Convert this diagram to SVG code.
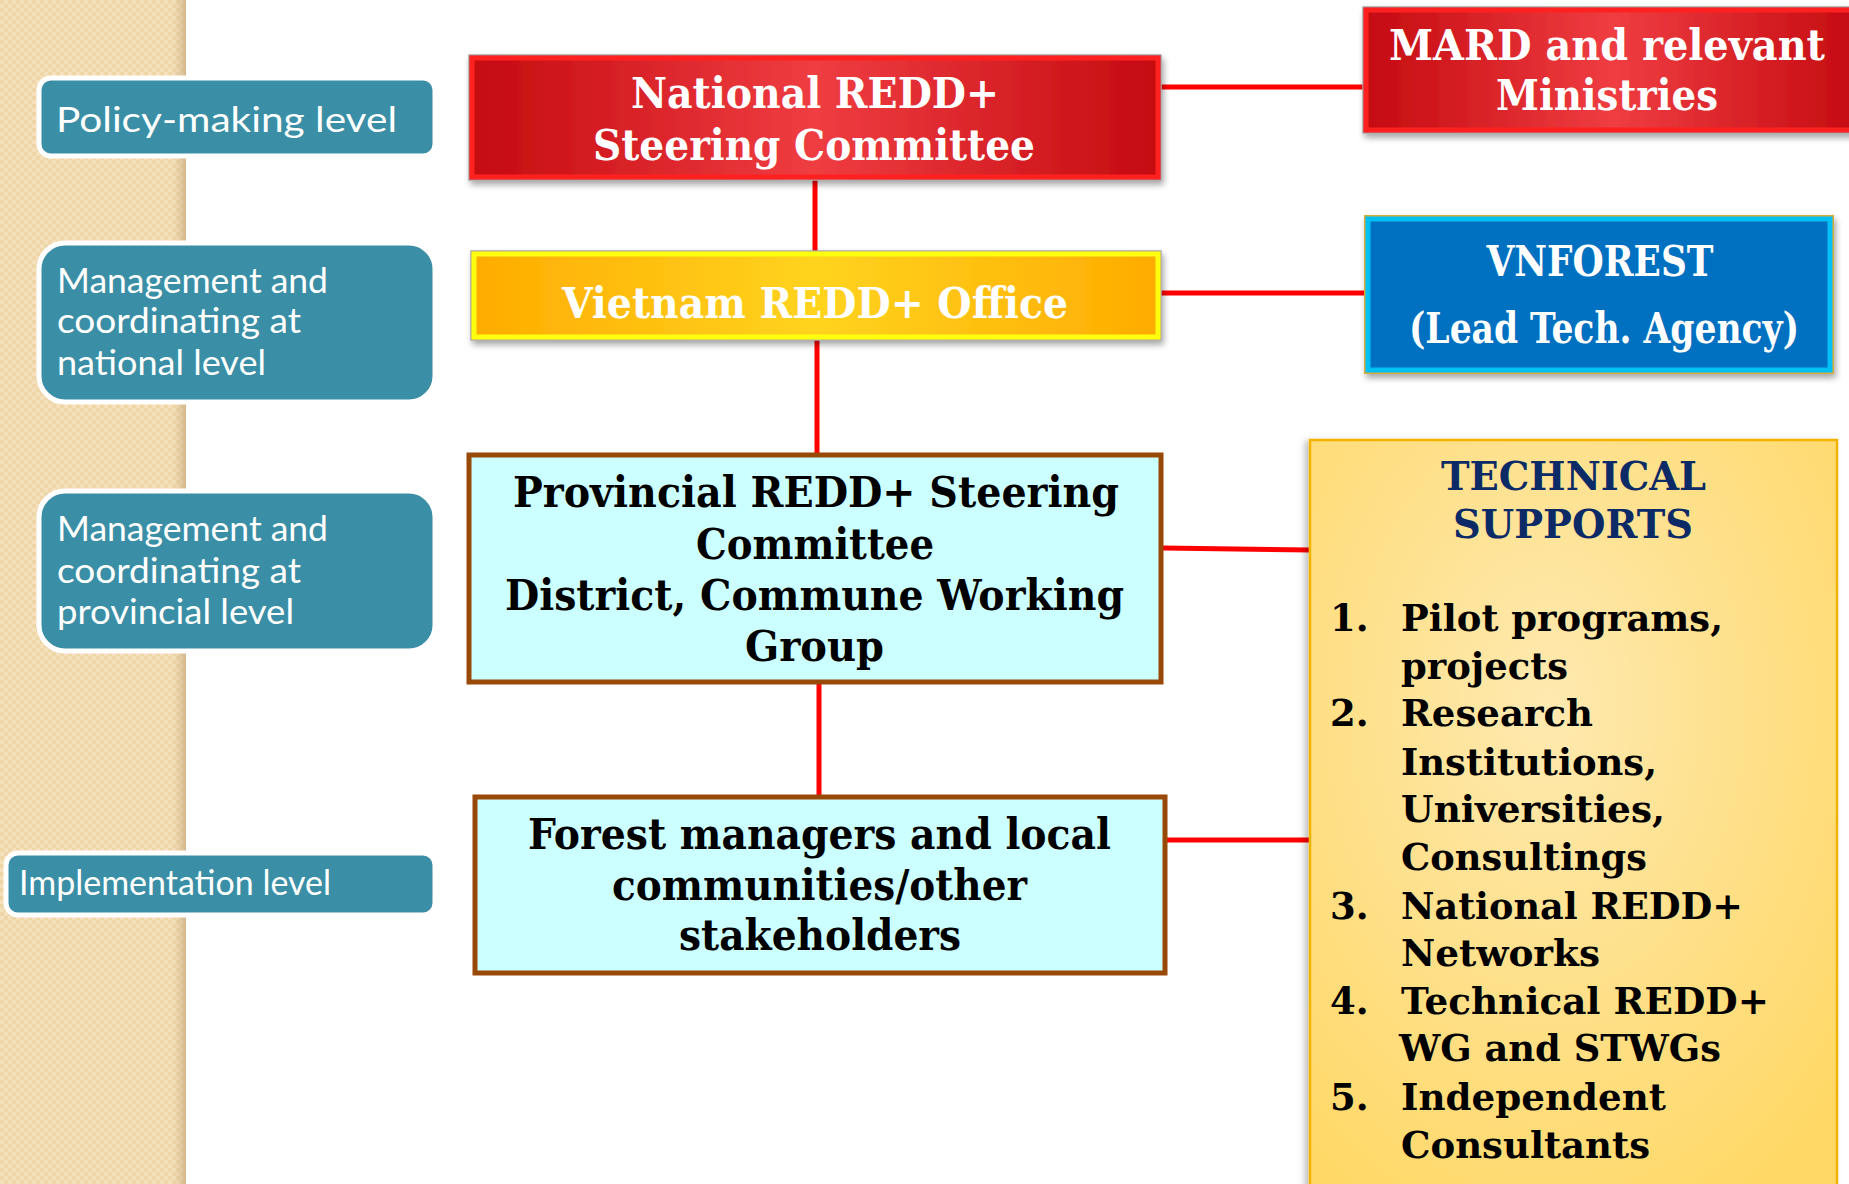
<svg xmlns="http://www.w3.org/2000/svg" width="1849" height="1184" viewBox="0 0 1849 1184">
<defs>
  <pattern id="chk" width="8" height="8" patternUnits="userSpaceOnUse">
    <rect width="8" height="8" fill="#f4e0bb"/>
    <rect width="4" height="4" fill="#eed6a9"/>
    <rect x="4" y="4" width="4" height="4" fill="#eed6a9"/>
  </pattern>
  <linearGradient id="bandEdge" x1="0" y1="0" x2="1" y2="0">
    <stop offset="0" stop-color="#e2c99a" stop-opacity="0"/>
    <stop offset="1" stop-color="#cdb384" stop-opacity="0.9"/>
  </linearGradient>
  <linearGradient id="redG" x1="0" y1="0" x2="1" y2="0">
    <stop offset="0" stop-color="#c40a10"/>
    <stop offset="0.5" stop-color="#ef3d42"/>
    <stop offset="1" stop-color="#c40a10"/>
  </linearGradient>
  <linearGradient id="yelG" x1="0" y1="0" x2="1" y2="0">
    <stop offset="0" stop-color="#ffac00"/>
    <stop offset="0.5" stop-color="#ffd31f"/>
    <stop offset="1" stop-color="#ffac00"/>
  </linearGradient>
  <radialGradient id="techG" cx="0.45" cy="0.35" r="0.75">
    <stop offset="0" stop-color="#fee9b0"/>
    <stop offset="1" stop-color="#ffd866"/>
  </radialGradient>
  <filter id="sh" x="-5%" y="-10%" width="112%" height="130%">
    <feDropShadow dx="2" dy="4" stdDeviation="3" flood-color="#000" flood-opacity="0.35"/>
  </filter>
  <filter id="shL" x="-5%" y="-5%" width="112%" height="112%">
    <feDropShadow dx="-4" dy="2" stdDeviation="3" flood-color="#000" flood-opacity="0.25"/>
  </filter>
  <style>
    .lbl { fill:#3a8fa6; stroke:#ffffff; stroke-width:5; }
    .lt { font-family:"Lato","Open Sans","DejaVu Sans",sans-serif; fill:#ffffff; font-size:35px; }
    .st { font-family:"DejaVu Serif","Liberation Serif",serif; font-weight:bold; }
    .cd { font-family:"DejaVu Serif Condensed","DejaVu Serif","Liberation Serif",serif; font-stretch:condensed; }
    .wt { fill:#ffffff; font-size:42px; }
    .bk { fill:#000000; font-size:43px; }
    .li { fill:#000000; font-size:37px; }
    .hd { fill:#0b2a66; font-size:40px; }
    .mid { text-anchor:middle; }
    .conn { stroke:#ff0000; stroke-width:5; fill:none; }
    .pbox { fill:#ccffff; stroke:#984807; stroke-width:5; }
  </style>
</defs>

<rect x="0" y="0" width="1849" height="1184" fill="#ffffff"/>
<g id="band">
  <rect x="0" y="0" width="186" height="1184" fill="url(#chk)"/>
  <rect x="172" y="0" width="14" height="1184" fill="url(#bandEdge)"/>
</g>

<g id="connectors">
  <line class="conn" x1="815" y1="180" x2="815" y2="252"/>
  <line class="conn" x1="817" y1="340" x2="817" y2="455"/>
  <line class="conn" x1="819" y1="682" x2="819" y2="797"/>
  <line class="conn" x1="1161" y1="87" x2="1364" y2="87"/>
  <line class="conn" x1="1161" y1="293" x2="1366" y2="293"/>
  <line class="conn" x1="1163" y1="548" x2="1310" y2="550"/>
  <line class="conn" x1="1166" y1="840" x2="1310" y2="840"/>
</g>

<g id="label-policy">
  <rect class="lbl" x="39" y="78" width="396" height="78" rx="12"/>
  <text class="lt" x="56" y="132" font-size="40" textLength="341" lengthAdjust="spacingAndGlyphs">Policy-making level</text>
</g>
<g id="label-national">
  <rect class="lbl" x="39" y="243" width="396" height="159" rx="26"/>
  <text class="lt" x="57" y="293" textLength="271" lengthAdjust="spacingAndGlyphs">Management and</text>
  <text class="lt" x="57" y="333" textLength="244" lengthAdjust="spacingAndGlyphs">coordinating at</text>
  <text class="lt" x="57" y="375" textLength="209" lengthAdjust="spacingAndGlyphs">national level</text>
</g>
<g id="label-provincial">
  <rect class="lbl" x="39" y="491" width="396" height="160" rx="26"/>
  <text class="lt" x="57" y="541" textLength="271" lengthAdjust="spacingAndGlyphs">Management and</text>
  <text class="lt" x="57" y="583" textLength="244" lengthAdjust="spacingAndGlyphs">coordinating at</text>
  <text class="lt" x="57" y="624" textLength="237" lengthAdjust="spacingAndGlyphs">provincial level</text>
</g>
<g id="label-implementation">
  <rect class="lbl" x="6" y="853" width="429" height="62" rx="12"/>
  <text class="lt" x="19" y="895" textLength="312" lengthAdjust="spacingAndGlyphs">Implementation level</text>
</g>

<g id="national-steering">
  <rect x="469" y="55" width="692" height="125" fill="url(#redG)" stroke="#a8a8a8" stroke-width="1.5" filter="url(#sh)"/>
  <rect x="472" y="58" width="686" height="119" fill="none" stroke="#ff2020" stroke-width="5"/>
  <text class="st wt" x="631" y="108" textLength="368" lengthAdjust="spacingAndGlyphs">National REDD+</text>
  <text class="st wt" x="593" y="160" textLength="442" lengthAdjust="spacingAndGlyphs">Steering Committee</text>
</g>

<g id="mard">
  <rect x="1363" y="7" width="500" height="126" fill="url(#redG)" stroke="#a8a8a8" stroke-width="1.5" filter="url(#sh)"/>
  <rect x="1366" y="10" width="494" height="120" fill="none" stroke="#ff2020" stroke-width="5"/>
  <text class="st wt mid" x="1607" y="60" textLength="436" lengthAdjust="spacingAndGlyphs">MARD and relevant</text>
  <text class="st wt mid" x="1607" y="110" textLength="222" lengthAdjust="spacingAndGlyphs">Ministries</text>
</g>

<g id="vietnam-office">
  <rect x="471" y="251" width="690" height="89" fill="url(#yelG)" stroke="#a8a8a8" stroke-width="1.5" filter="url(#sh)"/>
  <rect x="474" y="254" width="684" height="83" fill="none" stroke="#ffff10" stroke-width="5"/>
  <text class="st wt" x="562" y="318" textLength="506" lengthAdjust="spacingAndGlyphs">Vietnam REDD+ Office</text>
</g>

<g id="vnforest">
  <rect x="1365" y="216" width="468" height="157" fill="#0070c0" stroke="#d6ad3c" stroke-width="2" filter="url(#sh)"/>
  <rect x="1368" y="219" width="462" height="151" fill="none" stroke="#00c0f4" stroke-width="5"/>
  <text class="st wt mid" x="1600" y="276" font-size="39" textLength="227" lengthAdjust="spacingAndGlyphs">VNFOREST</text>
  <text class="st cd wt mid" x="1604" y="343" font-size="37" textLength="390" lengthAdjust="spacingAndGlyphs">(Lead Tech. Agency)</text>
</g>

<g id="provincial">
  <rect class="pbox" x="469" y="455" width="692" height="227"/>
  <text class="st bk" x="513" y="507" textLength="606" lengthAdjust="spacingAndGlyphs">Provincial REDD+ Steering</text>
  <text class="st bk" x="696" y="559" textLength="238" lengthAdjust="spacingAndGlyphs">Committee</text>
  <text class="st bk" x="505" y="610" textLength="619" lengthAdjust="spacingAndGlyphs">District, Commune Working</text>
  <text class="st bk" x="745" y="661" textLength="139" lengthAdjust="spacingAndGlyphs">Group</text>
</g>

<g id="forest">
  <rect class="pbox" x="475" y="797" width="690" height="176"/>
  <text class="st bk" x="528" y="849" textLength="583" lengthAdjust="spacingAndGlyphs">Forest managers and local</text>
  <text class="st bk" x="612" y="900" textLength="415" lengthAdjust="spacingAndGlyphs">communities/other</text>
  <text class="st bk" x="679" y="950" textLength="282" lengthAdjust="spacingAndGlyphs">stakeholders</text>
</g>

<g id="technical-supports">
  <rect x="1310" y="440" width="527" height="760" fill="url(#techG)" stroke="#f2b400" stroke-width="2.5" filter="url(#shL)"/>
  <text class="st hd" x="1441" y="490" textLength="265" lengthAdjust="spacingAndGlyphs">TECHNICAL</text>
  <text class="st hd" x="1453" y="538" textLength="240" lengthAdjust="spacingAndGlyphs">SUPPORTS</text>
  <text class="st li" x="1330" y="631">1.</text>
  <text class="st li" x="1401" y="631" textLength="322" lengthAdjust="spacingAndGlyphs">Pilot programs,</text>
  <text class="st li" x="1401" y="679" textLength="167" lengthAdjust="spacingAndGlyphs">projects</text>
  <text class="st li" x="1330" y="726">2.</text>
  <text class="st li" x="1401" y="726" textLength="192" lengthAdjust="spacingAndGlyphs">Research</text>
  <text class="st li" x="1401" y="775" textLength="256" lengthAdjust="spacingAndGlyphs">Institutions,</text>
  <text class="st li" x="1401" y="822" textLength="264" lengthAdjust="spacingAndGlyphs">Universities,</text>
  <text class="st li" x="1401" y="870" textLength="246" lengthAdjust="spacingAndGlyphs">Consultings</text>
  <text class="st li" x="1330" y="919">3.</text>
  <text class="st li" x="1401" y="919" textLength="342" lengthAdjust="spacingAndGlyphs">National REDD+</text>
  <text class="st li" x="1401" y="966" textLength="199" lengthAdjust="spacingAndGlyphs">Networks</text>
  <text class="st li" x="1330" y="1014">4.</text>
  <text class="st li" x="1401" y="1014" textLength="368" lengthAdjust="spacingAndGlyphs">Technical REDD+</text>
  <text class="st li" x="1399" y="1061" textLength="322" lengthAdjust="spacingAndGlyphs">WG and STWGs</text>
  <text class="st li" x="1330" y="1110">5.</text>
  <text class="st li" x="1401" y="1110" textLength="265" lengthAdjust="spacingAndGlyphs">Independent</text>
  <text class="st li" x="1401" y="1158" textLength="249" lengthAdjust="spacingAndGlyphs">Consultants</text>
</g>
</svg>
